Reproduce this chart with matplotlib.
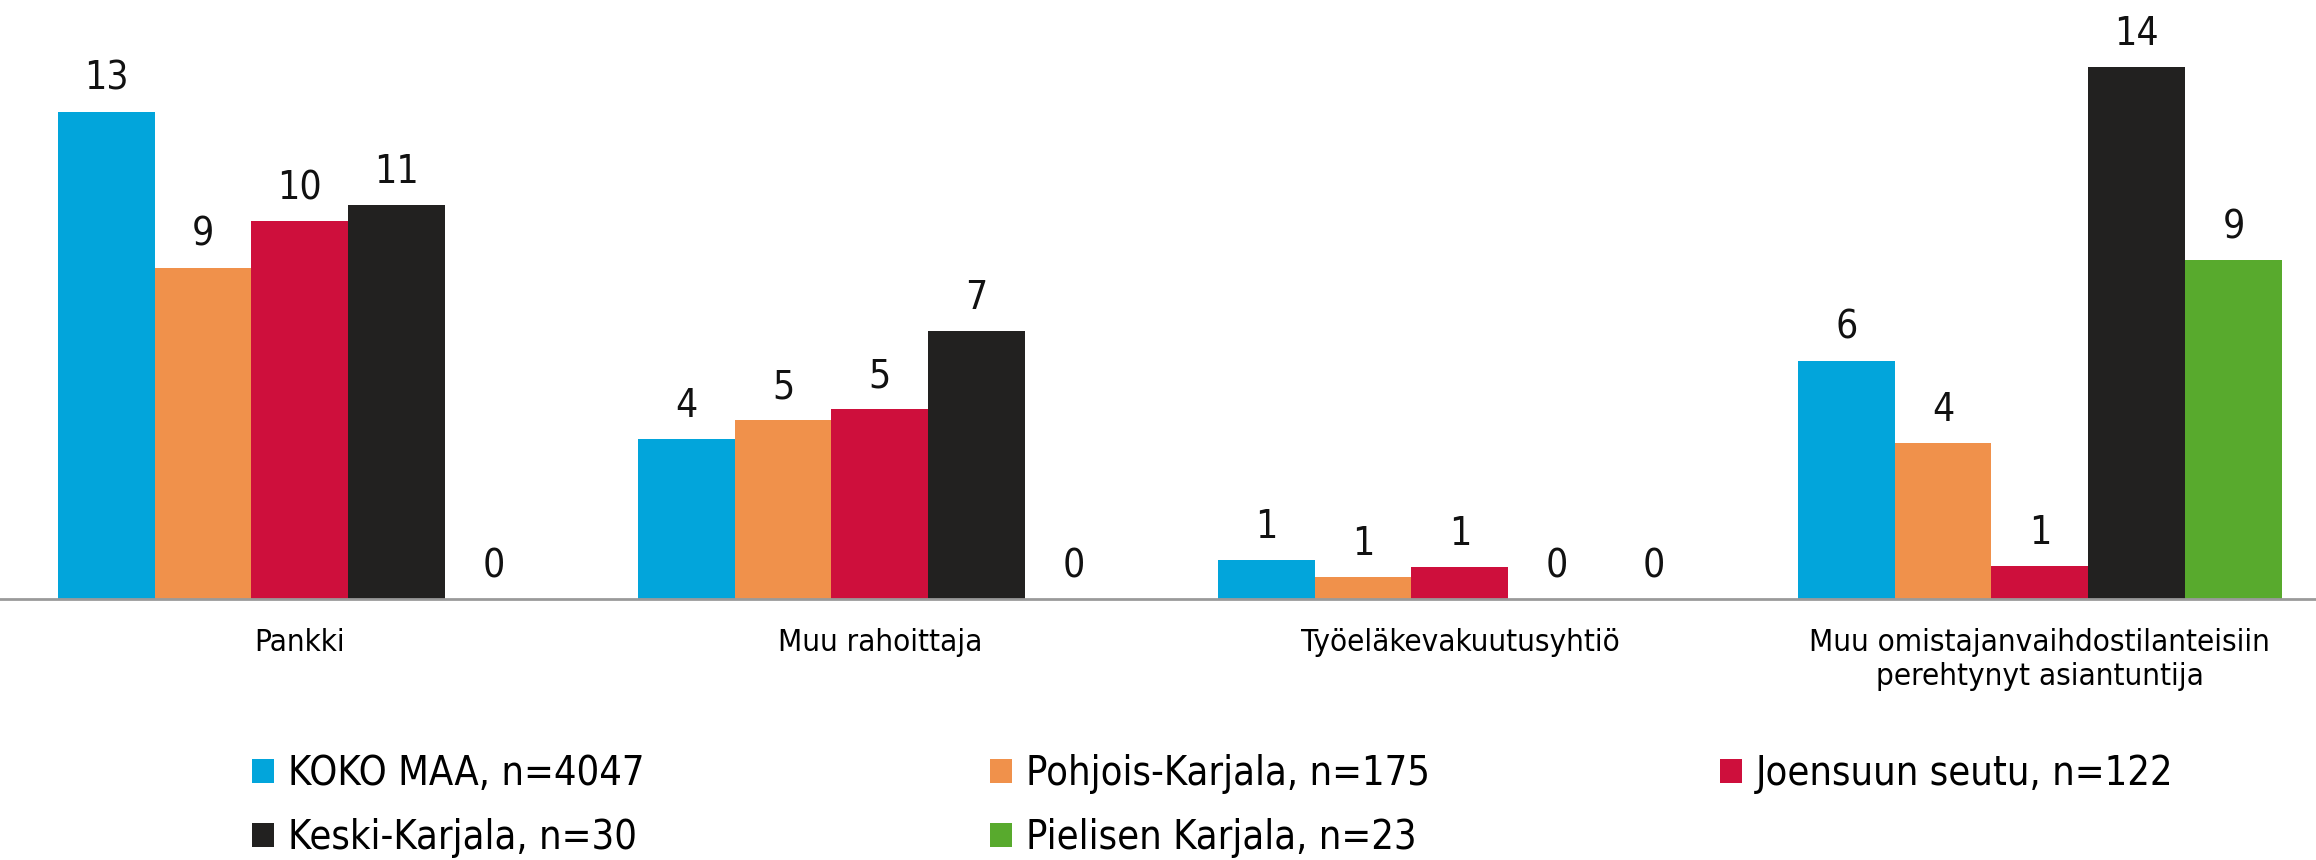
import numpy as np
import matplotlib
matplotlib.use("Agg")
from matplotlib import pyplot as plt

plt.rcParams['font.family'] = ['DejaVu Sans']

categories = ["Pankki", "Muu rahoittaja", "Työeläkevakuutusyhtiö",
              "Muu omistajanvaihdostilanteisiin\nperehtynyt asiantuntija"]
series_names = ["KOKO MAA, n=4047", "Pohjois-Karjala, n=175", "Joensuun seutu, n=122",
                "Keski-Karjala, n=30", "Pielisen Karjala, n=23"]
koko_maa = [13.1, 4.3, 1.04, 6.4]
pohjois_karjala = [8.9, 4.8, 0.59, 4.2]
joensuun_seutu = [10.15, 5.1, 0.85, 0.88]
keski_karjala = [10.6, 7.2, 0.0, 14.3]
pielisen_karjala = [0.0, 0.0, 0.0, 9.1]
colors = ["#02A5DB", "#F0914B", "#CE0F3C", "#222120", "#58AA2D"]

series = [koko_maa, pohjois_karjala, joensuun_seutu, keski_karjala, pielisen_karjala]

fig = plt.figure(figsize=(23.16, 8.6), dpi=100)
ax = fig.add_axes([0, 0.3035, 1, 0.6965])

x = np.arange(len(categories))
bw = 0.167
handles = []
for i, (vals, col, name) in enumerate(zip(series, colors, series_names)):
    bars = ax.bar(x + (i - 2) * bw, vals, bw, color=col, label=name)
    ax.bar_label(bars, labels=[f"{v:.0f}" for v in vals], padding=10,
                 fontsize=28, fontstretch='condensed', color="#111111")
    handles.append(bars)

ax.set_xlim(-0.517, 3.476)
ax.set_ylim(0, 16.1)
for s in ["top", "right", "left"]:
    ax.spines[s].set_visible(False)
ax.spines["bottom"].set_color("#9A9A9A")
ax.spines["bottom"].set_linewidth(2)
ax.set_yticks([])
ax.set_xticks(x)
ax.set_xticklabels(categories, fontsize=22.5, fontstretch='condensed', linespacing=1.2)
ax.tick_params(axis="x", length=0, pad=21)

# legend: three columns at fixed positions
cols = [[0, 3], [1, 4], [2]]
xpos = [252 / 2316, 990 / 2316, 1720 / 2316]
for idx, xp in zip(cols, xpos):
    leg = fig.legend([handles[k] for k in idx], [series_names[k] for k in idx],
                     loc="upper left", bbox_to_anchor=(xp, 0.123), frameon=False,
                     fontsize=28.5, handlelength=0.55, handleheight=0.55,
                     handletextpad=0.35, labelspacing=0.6, borderpad=0, borderaxespad=0)
    for t in leg.get_texts():
        t.set_fontstretch('condensed')

fig.savefig("out.png", dpi=100)
